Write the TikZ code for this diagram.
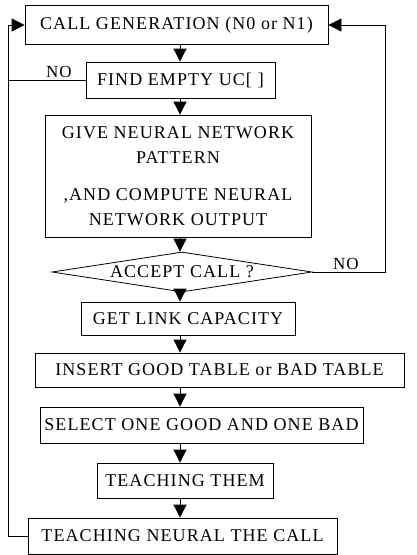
\documentclass[tikz,border=0pt]{standalone}
\usepackage{fontspec}
\setmainfont[LetterSpace = 6]{Liberation Serif}
\usepackage{tikz}
\usetikzlibrary{arrows.meta,positioning,shapes.geometric}

\begin{document}
\begin{tikzpicture}[x = 1pt, y = -1pt,
		box_node/.style = {rectangle, draw, inner sep = 0pt, align = center, font = \fontsize{18}{25}\selectfont},
		ask_node/.style = {diamond, draw, inner sep = 0pt, aspect = 6.5, minimum width = 260pt, minimum height = 40pt, font = \fontsize{18}{25}\selectfont},
		no_label/.style = {inner sep = 0pt, font = \fontsize{17}{20}\selectfont},
		arr/.style = {-{Triangle[length = 13pt, width = 13pt]}},
		line width = 0.8pt,
		]
		\useasboundingbox (0,0) rectangle (417,555);
		
		%spine and rails
		\coordinate (spine) at (180,0);
		\coordinate (lrail) at (8,0);
		\coordinate (rrail) at (385,0);
		
		%boxes
		\node[box_node, minimum width = 303pt, minimum height = 39pt] (gen) at (176.5,25) {CALL GENERATION (N0 or N1)};
		\node[box_node, minimum width = 189pt, minimum height = 36pt] (find) at (180.5,80) {FIND EMPTY UC[\,\,]};
		\node[box_node, minimum width = 266pt, minimum height = 122pt] (give) at (178,176) {GIVE NEURAL NETWORK\\PATTERN\\[12pt],AND COMPUTE NEURAL\\NETWORK OUTPUT};
		\node[ask_node] (accept) at (182,272) {ACCEPT CALL ?};
		\node[box_node, minimum width = 214pt, minimum height = 33pt] (link) at (188,318.5) {GET LINK CAPACITY};
		\node[box_node, minimum width = 369pt, minimum height = 34pt] (insert) at (219.5,370) {INSERT GOOD TABLE or BAD TABLE};
		\node[box_node, minimum width = 323pt, minimum height = 36pt] (select) at (201.5,425) {SELECT ONE GOOD AND ONE BAD};
		\node[box_node, minimum width = 176pt, minimum height = 35pt] (teach) at (185,480.5) {TEACHING THEM};
		\node[box_node, minimum width = 309pt, minimum height = 36pt] (neural) at (182.5,536) {TEACHING NEURAL THE CALL};
		
		%main flow
		\draw[arr] (gen.south -| spine) -- (find.north -| spine);
		\draw[arr] (find.south -| spine) -- (give.north -| spine);
		\draw[arr] (give.south -| spine) -- (accept.north -| spine);
		\draw[arr] (accept.south -| spine) -- (link.north -| spine);
		\draw[arr] (link.south -| spine) -- (insert.north -| spine);
		\draw[arr] (insert.south -| spine) -- (select.north -| spine);
		\draw[arr] (select.south -| spine) -- (teach.north -| spine);
		\draw[arr] (teach.south -| spine) -- (neural.north -| spine);
		
		%loops back
		\draw (find.west) -- (find.west -| lrail);
		\draw[arr] (neural.west) -| (gen.west -| lrail) -- (gen.west);
		\draw[arr] (accept.east) -| (gen.east -| rrail) -- (gen.east);
		
		%labels
		\node[no_label] (noa) at (59,72) {NO};
		\node[no_label] (nob) at (346,264) {NO};

\end{tikzpicture}
\end{document}
